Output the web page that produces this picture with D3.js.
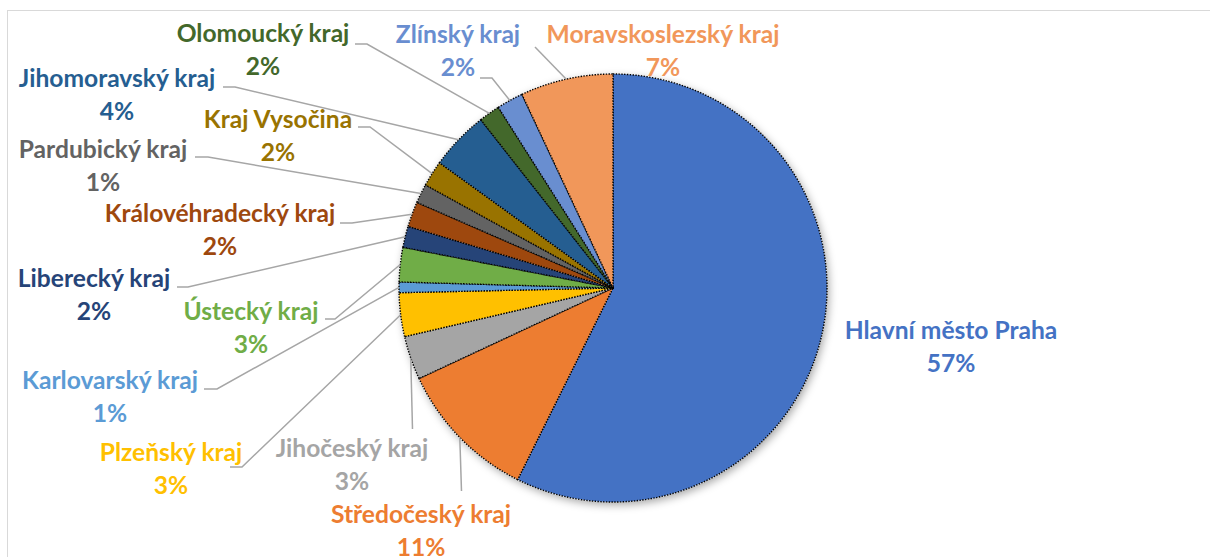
<!DOCTYPE html>
<html>
<head>
<meta charset="utf-8">
<script src="https://cdn.jsdelivr.net/npm/d3@7"></script>
<style>
  body { margin: 0; background: #fff; }
  svg { display: block; }
</style>
</head>
<body>
<svg id="chart" width="1210" height="557"></svg>
<script>
// regions (clockwise from 12 o'clock) and their shares
var regions = ["Hlavní město Praha", "Středočeský kraj", "Jihočeský kraj", "Plzeňský kraj",
    "Karlovarský kraj", "Ústecký kraj", "Liberecký kraj", "Královéhradecký kraj",
    "Pardubický kraj", "Kraj Vysočina", "Jihomoravský kraj", "Olomoucký kraj",
    "Zlínský kraj", "Moravskoslezský kraj"];
var shares = [57.35, 10.7, 3.3, 3.3, 0.8, 2.6, 1.6, 1.9, 1.45, 1.95, 4.45, 1.6, 2.0, 7.0];
var colors = ["#4472C4", "#ED7D31", "#A5A5A5", "#FFC000", "#5B9BD5", "#70AD47", "#264478",
    "#9E480E", "#636363", "#997300", "#255E91", "#43682B", "#698ED0", "#F1975A"];

// label layout: centre x, first baseline y
var labelPos = [[951, 339], [421, 523], [352, 457], [171, 461], [110, 389], [251, 320],
    [94, 287], [220, 222], [103, 158], [278, 128], [117, 87], [263, 42], [458, 43], [663, 43]];
// leader line points on the label side (pie end is added from the arc)
var leaders = [[], [[461.5, 491]], [[412.5, 429]], [[230, 467], [242, 467]],
    [[204, 389], [217, 389]], [[325, 319], [335, 319]], [[177, 287], [188, 287]],
    [[340, 223], [352, 223]], [[195, 157], [208, 157]], [[358, 127], [370, 127]],
    [[223, 87], [235, 87]], [[355, 44], [367, 44]], [[480, 78], [492, 78]], [[535, 47]]];

var svg = d3.select("#chart"),
    cx = 613, cy = 288, radius = 214;

// chart area border
svg.append("rect")
    .attr("x", 7.5).attr("y", 10.5)
    .attr("width", 1400).attr("height", 700)
    .attr("fill", "none")
    .attr("stroke", "#D9D9D9");

var defs = svg.append("defs");
defs.append("filter").attr("id", "shadow")
    .attr("x", "-20%").attr("y", "-20%").attr("width", "140%").attr("height", "140%")
    .append("feDropShadow")
    .attr("dx", 2).attr("dy", 3).attr("stdDeviation", 4)
    .attr("flood-color", "#000").attr("flood-opacity", 0.35);

var data = regions.map((r, i) => ({ name: r, value: shares[i], color: colors[i], i: i }));
var total = d3.sum(shares);

var pie = d3.pie().sort(null).value(d => d.value);
var arc = d3.arc().innerRadius(0).outerRadius(radius);
var arcs = pie(data);

var g = svg.append("g").attr("transform", "translate(" + cx + "," + cy + ")");

g.append("circle").attr("r", radius).attr("fill", "#fff").attr("filter", "url(#shadow)");

g.selectAll(".slice")
    .data(arcs)
    .enter().append("path")
    .attr("class", "slice")
    .attr("d", arc)
    .attr("fill", d => d.data.color)
    .attr("stroke", "#000")
    .attr("stroke-width", 1.4)
    .attr("stroke-dasharray", "1.4,1.4")
    .attr("stroke-linejoin", "round");

// leader lines
arcs.forEach(function(d, i) {
    if (!leaders[i].length) return;
    var mid = (d.startAngle + d.endAngle) / 2;
    var end = [cx + radius * Math.sin(mid), cy - radius * Math.cos(mid)];
    var pts = leaders[i].concat([end]);
    svg.append("path")
        .attr("d", d3.line()(pts))
        .attr("fill", "none")
        .attr("stroke", "#A6A6A6")
        .attr("stroke-width", 1.5);
});

// labels
var labels = svg.selectAll(".label")
    .data(arcs)
    .enter().append("text")
    .attr("class", "label")
    .attr("text-anchor", "middle")
    .style("font-family", "Lato, 'Open Sans', sans-serif")
    .style("font-weight", "bold")
    .style("font-size", "24.6px")
    .attr("fill", d => d.data.color);

labels.append("tspan")
    .attr("x", (d, i) => labelPos[i][0])
    .attr("y", (d, i) => labelPos[i][1])
    .text(d => d.data.name);

labels.append("tspan")
    .attr("x", (d, i) => labelPos[i][0])
    .attr("y", (d, i) => labelPos[i][1] + 32.5)
    .text(d => Math.round(d.data.value / total * 100) + "%");
</script>
</body>
</html>
